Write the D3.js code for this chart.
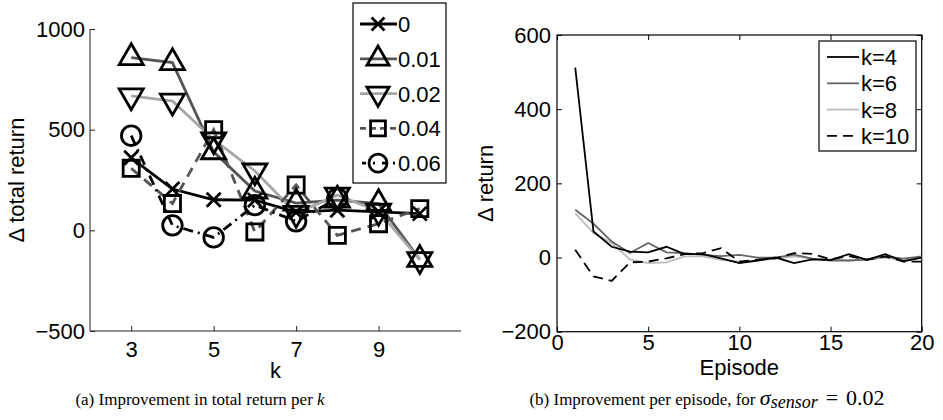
<!DOCTYPE html>
<html>
<head>
<meta charset="utf-8">
<script src="https://cdn.jsdelivr.net/npm/d3@7"></script>
<style>
  body { margin: 0; background: #fff; }
  svg { display: block; }
  text { font-family: "Liberation Sans", Arial, Helvetica, sans-serif; fill: #000; }
  .caption, .caption tspan { font-family: "Liberation Serif", "Times New Roman", serif; }
  .caption { font-size: 17px; }
</style>
</head>
<body>
<svg id="chart" width="943" height="420"></svg>
<script>
// (a) total return improvement per k, one series per sensor noise
const kValues = [3, 4, 5, 6, 7, 8, 9, 10];
const noiseLabels = ["0", "0.01", "0.02", "0.04", "0.06"];
const ret0   = [360, 205, 152, 150, 90, 100, 92, 83];
const ret001 = [858, 833, 390, 195, 135, 150, 133, -145];
const ret002 = [668, 642, 450, 295, 85, 175, 95, -145];
const ret004 = [308, 133, 500, -8, 225, -25, 33, 108];
const ret006 = [470, 25, -35, 125, 45, 158, null, null];
const kTicks = [3, 5, 7, 9];
const totalTicks = [-500, 0, 500, 1000];

// (b) return improvement per episode
const episodes = [1, 2, 3, 4, 5, 6, 7, 8, 9, 10, 11, 12, 13, 14, 15, 16, 17, 18, 19, 20];
const kLabels = ["k=4", "k=6", "k=8", "k=10"];
const epK4  = [512, 70, 29, 16, 14, 29, 9, 9, -2, -15, -8, 0, -15, -5, -7, 9, -6, 9, -10, 0];
const epK6  = [129, 91, 43, 12, 39, 14, 12, 7, 4, 7, 0, 0, 8, -3, -8, -8, -5, 3, -3, 3];
const epK8  = [120, 66, 39, -5, -15, -13, 3, 3, -6, -11, -8, -3, 3, -3, -5, -8, -7, 0, -8, 0];
const epK10 = [21, -51, -63, -13, -11, -2, 9, 12, 25, -11, -6, -2, 12, 10, -5, 4, -6, 3, -11, -11];
const episodeTicks = [0, 5, 10, 15, 20];
const returnTicks = [-200, 0, 200, 400, 600];

const svg = d3.select("#chart");
const fmt = d3.format("");
const FS = 22;

// marker shapes, drawn hollow like matlab
const symX = {
    draw(ctx, size) {
        const r = Math.sqrt(size) / 2;
        ctx.moveTo(-r, -r); ctx.lineTo(r, r);
        ctx.moveTo(r, -r); ctx.lineTo(-r, r);
    }
};
const markers = [
    {type: symX, size: 196, rotate: 0},
    {type: d3.symbolTriangle, size: 250, rotate: 0},
    {type: d3.symbolTriangle, size: 250, rotate: 180},
    {type: d3.symbolSquare, size: 260, rotate: 0},
    {type: d3.symbolCircle, size: 300, rotate: 0}
];
const seriesA = [
    {values: ret0,   color: "#000",    dash: null},
    {values: ret001, color: "#555",    dash: null},
    {values: ret002, color: "#a6a6a6", dash: null},
    {values: ret004, color: "#555",    dash: "10,7"},
    {values: ret006, color: "#000",    dash: "10,5,2,5"}
];

//---------- panel (a) ----------
const xa = d3.scaleLinear().domain([2, 11]).range([90, 461]);
const ya = d3.scaleLinear().domain([-500, 1000]).range([331, 29]);

const gA = svg.append("g");

gA.append("g")
    .attr("transform", `translate(0,${ya(-500)})`)
    .call(d3.axisBottom(xa).tickValues(kTicks).tickSize(-5).tickPadding(10).tickFormat(fmt))
    .call(g => g.select(".domain").attr("d", `M${xa.range()[0]},0H${xa.range()[1]}`).attr("stroke", "#222"))
    .call(g => g.selectAll("text").attr("font-size", FS).attr("dy", "0.72em"));

gA.append("g")
    .attr("transform", `translate(${xa(2)},0)`)
    .call(d3.axisLeft(ya).tickValues(totalTicks).tickSize(-5).tickPadding(5).tickFormat(fmt))
    .call(g => g.select(".domain").attr("d", `M0,${ya.range()[0]}V${ya.range()[1]}`).attr("stroke", "#222"))
    .call(g => g.selectAll("text").attr("font-size", FS));

gA.selectAll(".tick line").attr("stroke", "#222");

gA.append("text")
    .attr("transform", `translate(24,${(ya.range()[0] + ya.range()[1]) / 2}) rotate(-90)`)
    .attr("text-anchor", "middle")
    .attr("font-size", FS)
    .text("Δ total return");

gA.append("text")
    .attr("x", (xa.range()[0] + xa.range()[1]) / 2)
    .attr("y", 378)
    .attr("text-anchor", "middle")
    .attr("font-size", FS)
    .text("k");

const lineA = d3.line()
    .defined(d => d !== null)
    .x((d, i) => xa(kValues[i]))
    .y(d => ya(d));

seriesA.forEach(s => {
    gA.append("path")
        .datum(s.values)
        .attr("d", lineA)
        .attr("fill", "none")
        .attr("stroke", s.color)
        .attr("stroke-width", 2.8)
        .attr("stroke-dasharray", s.dash);
});
seriesA.forEach((s, si) => {
    const m = markers[si];
    gA.selectAll(null)
        .data(s.values.map((v, i) => ({k: kValues[i], v})).filter(d => d.v !== null))
        .enter()
        .append("path")
        .attr("d", d3.symbol().type(m.type).size(m.size))
        .attr("transform", d => `translate(${xa(d.k)},${ya(d.v)}) rotate(${m.rotate})`)
        .attr("fill", "none")
        .attr("stroke", "#000")
        .attr("stroke-width", 2.8);
});

// legend (a)
const legA = gA.append("g");
legA.append("rect")
    .attr("x", 353).attr("y", 3).attr("width", 93).attr("height", 180)
    .attr("fill", "#fff").attr("stroke", "#000").attr("stroke-width", 1.2);
noiseLabels.forEach((lab, i) => {
    const y = 24 + i * 34.8;
    const s = seriesA[i], m = markers[i];
    legA.append("line")
        .attr("x1", 360).attr("x2", 397).attr("y1", y).attr("y2", y)
        .attr("stroke", s.color).attr("stroke-width", 2.8)
        .attr("stroke-dasharray", i === 3 ? "6,4" : (i === 4 ? "4,7,2,7" : null))
        .attr("stroke-dashoffset", i === 4 ? -2 : 0);
    legA.append("path")
        .attr("d", d3.symbol().type(m.type).size(m.size * 0.85))
        .attr("transform", `translate(378,${y}) rotate(${m.rotate})`)
        .attr("fill", "none").attr("stroke", "#000").attr("stroke-width", 2.8);
    legA.append("text")
        .attr("x", 398).attr("y", y).attr("dy", "0.36em")
        .attr("font-size", FS)
        .text(lab);
});

gA.append("text")
    .attr("class", "caption")
    .attr("x", 200).attr("y", 405)
    .attr("text-anchor", "middle")
    .call(t => {
        t.append("tspan").text("(a) Improvement in total return per ");
        t.append("tspan").attr("font-style", "italic").text("k");
    });

//---------- panel (b) ----------
const xb = d3.scaleLinear().domain([0, 20]).range([557, 921.7]);
const yb = d3.scaleLinear().domain([-200, 600]).range([331.7, 35]);

const gB = svg.append("g");

gB.append("rect")
    .attr("x", xb(0)).attr("y", yb(600))
    .attr("width", xb(20) - xb(0)).attr("height", yb(-200) - yb(600))
    .attr("fill", "none").attr("stroke", "#000").attr("stroke-width", 1.2);

gB.append("g")
    .attr("transform", `translate(0,${yb(-200)})`)
    .call(d3.axisBottom(xb).tickValues(episodeTicks).tickSize(-5).tickPadding(3).tickFormat(fmt))
    .call(g => g.selectAll("text").attr("font-size", FS).attr("dy", "0.7em"));
gB.append("g")
    .attr("transform", `translate(0,${yb(600)})`)
    .call(d3.axisTop(xb).tickValues(episodeTicks).tickSize(-5).tickFormat(""));
gB.append("g")
    .attr("transform", `translate(${xb(0)},0)`)
    .call(d3.axisLeft(yb).tickValues(returnTicks).tickSize(-5).tickPadding(6).tickFormat(fmt))
    .call(g => g.selectAll("text").attr("font-size", FS));
gB.append("g")
    .attr("transform", `translate(${xb(20)},0)`)
    .call(d3.axisRight(yb).tickValues(returnTicks).tickSize(-5).tickFormat(""));
gB.selectAll(".domain").remove();
gB.selectAll(".tick line").attr("stroke", "#000");

gB.append("text")
    .attr("transform", `translate(493,${(yb.range()[0] + yb.range()[1]) / 2}) rotate(-90)`)
    .attr("text-anchor", "middle")
    .attr("font-size", FS)
    .text("Δ return");

gB.append("text")
    .attr("x", (xb.range()[0] + xb.range()[1]) / 2)
    .attr("y", 375)
    .attr("text-anchor", "middle")
    .attr("font-size", FS)
    .text("Episode");

const seriesB = [
    {values: epK4,  color: "#000",    dash: null},
    {values: epK6,  color: "#666",    dash: null},
    {values: epK8,  color: "#bdbdbd", dash: null},
    {values: epK10, color: "#000",    dash: "10,6"}
];
const lineB = d3.line().x((d, i) => xb(episodes[i])).y(d => yb(d));

[2, 1, 3, 0].forEach(si => {
    const s = seriesB[si];
    gB.append("path")
        .datum(s.values)
        .attr("d", lineB)
        .attr("fill", "none")
        .attr("stroke", s.color)
        .attr("stroke-width", 1.8)
        .attr("stroke-dasharray", s.dash);
});

// legend (b)
const legB = gB.append("g");
legB.append("rect")
    .attr("x", 819).attr("y", 41).attr("width", 97).attr("height", 110)
    .attr("fill", "#fff").attr("stroke", "#000").attr("stroke-width", 1.2);
kLabels.forEach((lab, i) => {
    const y = 57 + i * 26.3;
    const s = seriesB[i];
    legB.append("line")
        .attr("x1", 827).attr("x2", 859).attr("y1", y).attr("y2", y)
        .attr("stroke", s.color).attr("stroke-width", 1.8)
        .attr("stroke-dasharray", s.dash);
    legB.append("text")
        .attr("x", 861).attr("y", y).attr("dy", "0.36em")
        .attr("font-size", FS)
        .text(lab);
});

gB.append("text")
    .attr("class", "caption")
    .attr("x", 707).attr("y", 405)
    .attr("text-anchor", "middle")
    .call(t => {
        t.append("tspan").text("(b) Improvement per episode, for ");
        t.append("tspan").attr("font-style", "italic").attr("font-size", 22).text("σ");
        t.append("tspan").attr("font-style", "italic").attr("font-size", 18).attr("dy", 3).text("sensor");
        t.append("tspan").attr("dy", -3).attr("dx", 8).attr("font-size", 22).text("=");
        t.append("tspan").attr("dx", 8).attr("font-size", 22).text("0.02");
    });
</script>
</body>
</html>
